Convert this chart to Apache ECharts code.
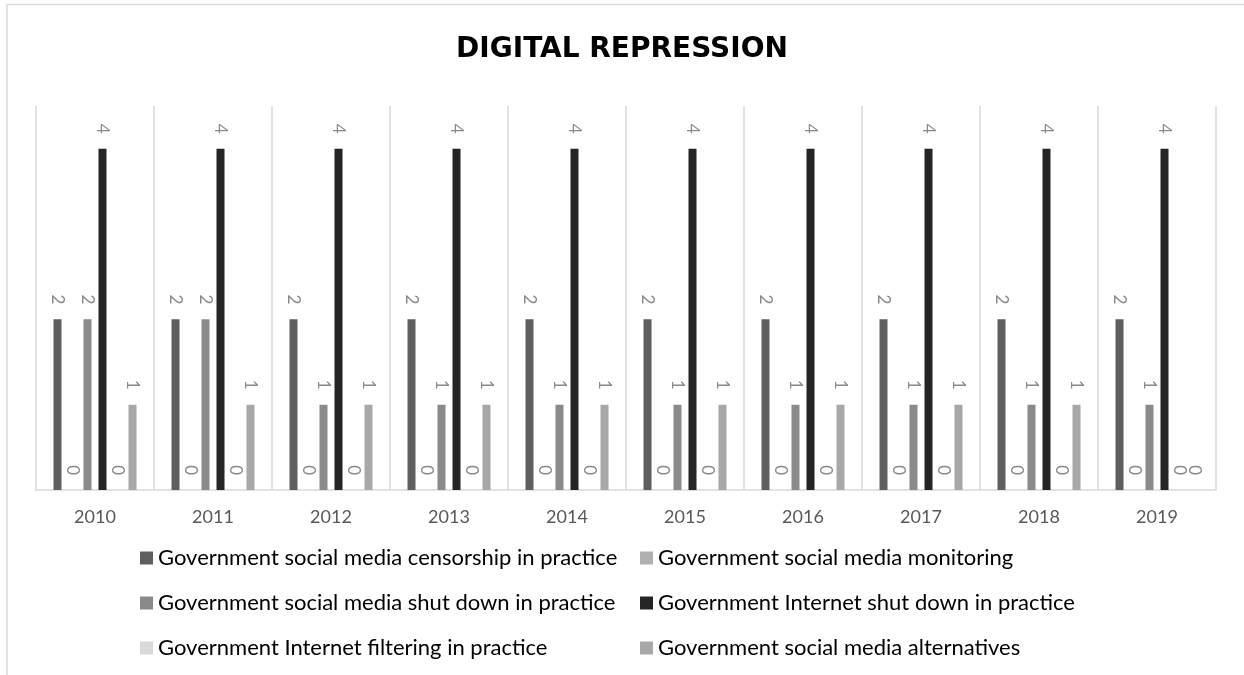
<!DOCTYPE html>
<html>
<head>
<meta charset="utf-8">
<script src="https://cdn.jsdelivr.net/npm/echarts@6/dist/echarts.min.js"></script>
<style>
html,body{margin:0;padding:0;background:#fff;}
#chart{width:1244px;height:675px;}
</style>
</head>
<body>
<div id="chart"></div>
<script>
const categories = ['2010','2011','2012','2013','2014','2015','2016','2017','2018','2019'];
const seriesNames = [
  'Government social media censorship in practice',
  'Government social media monitoring',
  'Government social media shut down in practice',
  'Government Internet shut down in practice',
  'Government Internet filtering in practice',
  'Government social media alternatives'
];
const censorship       = [2,2,2,2,2,2,2,2,2,2];
const monitoring       = [0,0,0,0,0,0,0,0,0,0];
const socialShutdown   = [2,2,1,1,1,1,1,1,1,1];
const internetShutdown = [4,4,4,4,4,4,4,4,4,4];
const filtering        = [0,0,0,0,0,0,0,0,0,0];
const alternatives     = [1,1,1,1,1,1,1,1,1,0];
const seriesData = [censorship, monitoring, socialShutdown, internetShutdown, filtering, alternatives];
const colors = ['#5f5f5f','#b0b0b0','#8a8a8a','#252525','#d9d9d9','#a8a8a8'];

const chart = echarts.init(document.getElementById('chart'));
const FONT = 'Lato';
const legendText = { fontFamily: FONT, fontSize: 22, color: '#000000', lineHeight: 22 };
const option = {
  backgroundColor: '#ffffff',
  animation: false,
  title: {
    text: 'DIGITAL REPRESSION',
    left: 'center',
    top: 31,
    textStyle: { fontFamily: 'DejaVu Sans', fontSize: 28, fontWeight: 'bold', color: '#000000' }
  },
  graphic: [{
    type: 'rect',
    shape: { x: 7, y: 4.5, width: 1300, height: 700 },
    style: { fill: 'none', stroke: '#d9d9d9', lineWidth: 1.5 },
    silent: true
  }],
  legend: [
    {
      orient: 'vertical', left: 135, top: 542, itemWidth: 13, itemHeight: 13, itemGap: 23,
      icon: 'rect',
      data: [seriesNames[0], seriesNames[2], seriesNames[4]],
      textStyle: legendText
    },
    {
      orient: 'vertical', left: 635, top: 542, itemWidth: 13, itemHeight: 13, itemGap: 23,
      icon: 'rect',
      data: [seriesNames[1], seriesNames[3], seriesNames[5]],
      textStyle: legendText
    }
  ],
  grid: { left: 36, right: 28, top: 106, bottom: 185, containLabel: false },
  xAxis: {
    type: 'category',
    data: categories,
    boundaryGap: true,
    axisLine: { show: true, lineStyle: { color: '#d9d9d9', width: 1.5 } },
    axisTick: { show: false },
    splitLine: { show: true, lineStyle: { color: '#d9d9d9', width: 1.5 } },
    axisLabel: { color: '#595959', fontFamily: FONT, fontSize: 18, margin: 18 }
  },
  yAxis: {
    type: 'value', min: 0, max: 4.5,
    show: false,
    splitLine: { show: false }
  },
  series: seriesNames.map((name, i) => ({
    name: name,
    type: 'bar',
    data: seriesData[i],
    barWidth: 8,
    barGap: '87.5%',
    itemStyle: { color: colors[i] },
    label: {
      show: true,
      position: 'top',
      distance: 15,
      rotate: -90,
      align: 'right',
      verticalAlign: 'middle',
      color: '#8a8a8a',
      fontFamily: FONT,
      fontSize: 17
    }
  }))
};
chart.setOption(option);
</script>
</body>
</html>
